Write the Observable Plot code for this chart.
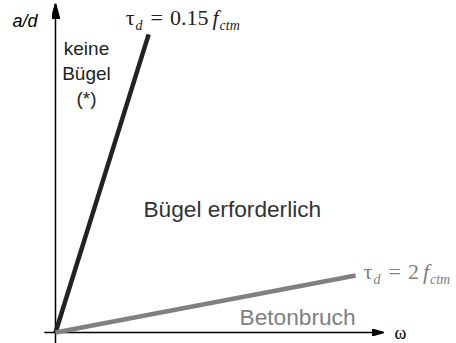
<!DOCTYPE html>
<html>
<head>
<meta charset="utf-8">
<script src="https://cdn.jsdelivr.net/npm/d3@7"></script>
<script src="https://cdn.jsdelivr.net/npm/@observablehq/plot@0.6"></script>
<style>
  body { margin: 0; background: #fff; }
  svg { overflow: visible; }
</style>
</head>
<body>
<div id="chart"></div>
<script>
// Shear design regions in the ω – a/d plane, bounded by τd = k · fctm
const coefficients = [0.15, 2];      // k in τd = k · fctm
const omegaEnd = [0.284, 0.915];     // ω where each limit line ends
const ratioEnd = [0.906, 0.173];     // a/d where each limit line ends
const noteLines = ["keine", "Bügel", "(*)"];
const regionLabel = "Bügel erforderlich";
const failureLabel = "Betonbruch";
const xLabel = "ω";
const yLabel = "a/d";

const limits = coefficients.map((k, i) => ({
  k,
  label: `τd = ${k} fctm`,
  omega: omegaEnd[i],
  ratio: ratioEnd[i]
}));

const sans = "Liberation Sans, Arial, Helvetica, sans-serif";
const serif = "Liberation Serif, Times New Roman, serif";

// filled triangular arrowhead for the axes
function solidHead(len, half) {
  return (color) => {
    const m = d3.create("svg:marker")
      .attr("viewBox", `${-len} ${-half} ${len} ${2 * half}`)
      .attr("markerWidth", len)
      .attr("markerHeight", 2 * half)
      .attr("markerUnits", "userSpaceOnUse")
      .attr("orient", "auto")
      .attr("refX", 0)
      .attr("refY", 0);
    m.append("path")
      .attr("d", `M${-len},${-half}L0,0L${-len},${half}Z`)
      .attr("fill", color);
    return m.node();
  };
}

const svg = Plot.plot({
  width: 456,
  height: 343,
  marginLeft: 55,
  marginRight: 73,
  marginTop: 3,
  marginBottom: 11,
  x: {domain: [0, 1], axis: null},
  y: {domain: [0, 1], axis: null},
  color: {domain: coefficients, range: ["#222222", "#808080"]},
  style: {fontFamily: sans, background: "#fff"},
  marks: [
    // axes
    Plot.link([{x1: 0, y1: -0.034, x2: 0, y2: 1}], {
      x1: "x1", y1: "y1", x2: "x2", y2: "y2",
      stroke: "#000", strokeWidth: 1.5, markerEnd: solidHead(15, 4)
    }),
    Plot.link([{x1: -0.034, y1: 0, x2: 1, y2: 0}], {
      x1: "x1", y1: "y1", x2: "x2", y2: "y2",
      stroke: "#000", strokeWidth: 1.5, markerEnd: solidHead(12, 3.5)
    }),
    // limit lines from the origin
    Plot.link(limits, {
      x1: () => 0, y1: () => 0, x2: "omega", y2: "ratio",
      stroke: "k", strokeWidth: 4.5
    }),
    // line labels (typeset with sub/italics below)
    Plot.text(limits.slice(0, 1), {
      x: "omega", y: "ratio", text: "label",
      textAnchor: "start", lineAnchor: "bottom", dx: -23, dy: -9,
      fontFamily: serif, fontSize: 22, fill: "#222222"
    }),
    Plot.text(limits.slice(1), {
      x: "omega", y: "ratio", text: "label",
      textAnchor: "start", lineAnchor: "bottom", dx: 8, dy: 3,
      fontFamily: serif, fontSize: 22, fill: "#808080"
    }),
    // region annotations
    Plot.text(noteLines, {
      x: () => 0.0945, y: (d, i) => 0.842 - i * 0.076, text: d => d,
      textAnchor: "middle", lineAnchor: "bottom",
      fontSize: 19, fill: "#222222"
    }),
    Plot.text([regionLabel], {
      x: () => 0.268, y: () => 0.350, text: d => d,
      textAnchor: "start", lineAnchor: "bottom",
      fontSize: 22.7, fill: "#333333"
    }),
    Plot.text([failureLabel], {
      x: () => 0.561, y: () => 0.0243, text: d => d,
      textAnchor: "start", lineAnchor: "bottom",
      fontSize: 22.7, fill: "#808080"
    }),
    // axis names
    Plot.text([yLabel], {
      x: () => 0, y: () => 1, text: d => d,
      textAnchor: "end", lineAnchor: "bottom", dx: -18, dy: 23,
      fontSize: 18, fontStyle: "italic", fill: "#000"
    }),
    Plot.text([xLabel], {
      x: () => 1, y: () => 0, text: d => d,
      textAnchor: "start", lineAnchor: "bottom", dx: 11, dy: 6,
      fontFamily: serif, fontSize: 18, fill: "#000"
    })
  ]
});

// τd = k fctm with subscripts and italic symbols
d3.select(svg).selectAll("text").each(function () {
  const row = limits.find(r => r.label === this.textContent);
  if (!row) return;
  const t = d3.select(this).text(null);
  t.append("tspan").text("τ");
  t.append("tspan").attr("font-style", "italic").attr("font-size", 14).attr("dy", 5).attr("dx", 1).text("d");
  t.append("tspan").attr("dy", -5).attr("dx", 8).text("=");
  t.append("tspan").attr("dx", 7).text(String(row.k));
  t.append("tspan").attr("dx", 4).attr("font-style", "italic").text("f");
  t.append("tspan").attr("font-style", "italic").attr("font-size", 14).attr("dy", 5).attr("dx", 1).text("ctm");
});

document.getElementById("chart").appendChild(svg);
</script>
</body>
</html>
